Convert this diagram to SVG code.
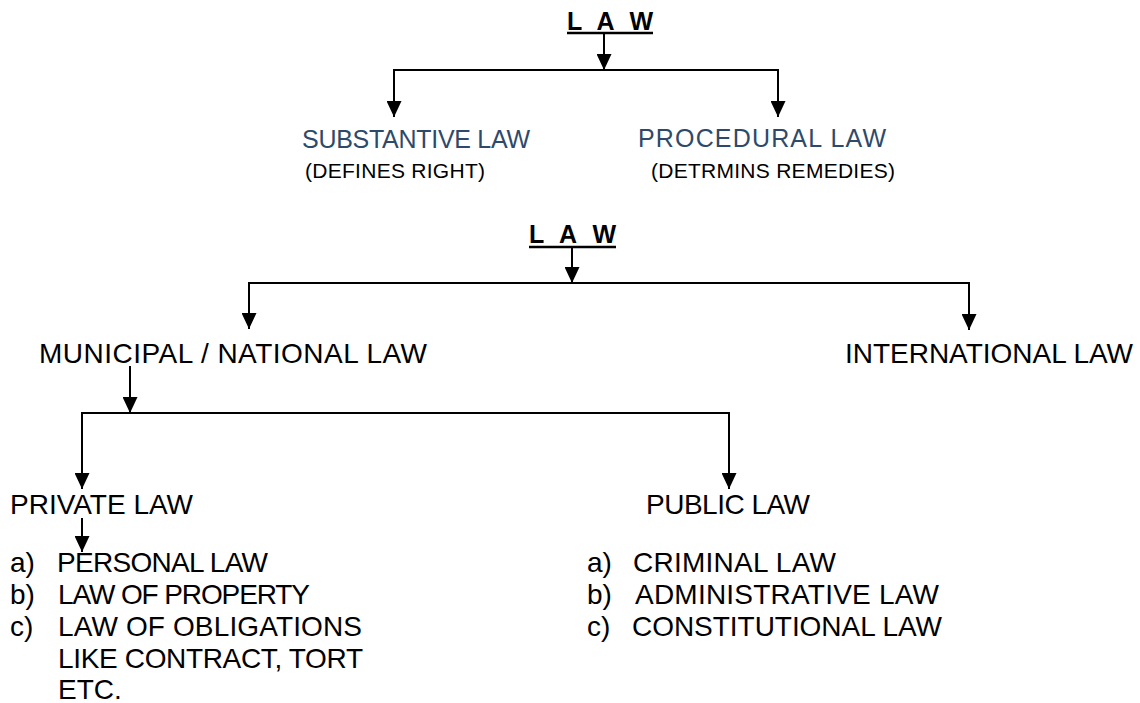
<svg xmlns="http://www.w3.org/2000/svg" width="1140" height="703" viewBox="0 0 1140 703">
<style>
  .t { font-family: "Liberation Sans", Arial, sans-serif; font-size: 28px; fill: #000; }
  .h { font-family: "Liberation Sans", Arial, sans-serif; font-size: 25px; font-weight: bold; fill: #000; }
  .blue { font-family: "Liberation Sans", Arial, sans-serif; font-size: 25px; fill: #2E4A6A; }
  .sub { font-family: "Liberation Sans", Arial, sans-serif; font-size: 21px; fill: #000; }
  .c { fill: none; stroke: #000; stroke-width: 2; }
  .u { stroke: #000; stroke-width: 2.5; }
</style>
<defs>
  <marker id="ah" markerUnits="userSpaceOnUse" viewBox="0 0 16 15" refX="16" refY="7.5" markerWidth="16" markerHeight="15" orient="auto-start-reverse">
    <path d="M0,0 L16,7.5 L0,15 z" fill="#000"/>
  </marker>
</defs>
<rect width="1140" height="703" fill="#fff"/>

<g id="connectors">
  <path class="c" d="M604,33 V70" marker-end="url(#ah)"/>
  <path class="c" d="M394,117 V70 H778 V117" marker-start="url(#ah)" marker-end="url(#ah)"/>
  <path class="c" d="M572,247 V283" marker-end="url(#ah)"/>
  <path class="c" d="M249,329 V283 H969 V330" marker-start="url(#ah)" marker-end="url(#ah)"/>
  <path class="c" d="M130,366 V413" marker-end="url(#ah)"/>
  <path class="c" d="M82,489 V413 H729 V489" marker-start="url(#ah)" marker-end="url(#ah)"/>
  <path class="c" d="M82,518 V552" marker-end="url(#ah)"/>
</g>

<g id="law1">
  <text class="h" x="567" y="30" textLength="86" lengthAdjust="spacing">L A W</text>
  <line class="u" x1="567" y1="33" x2="653" y2="33"/>
</g>
<g id="substantive">
  <text class="blue" x="302" y="148" textLength="228" lengthAdjust="spacing">SUBSTANTIVE LAW</text>
  <text class="sub" x="305" y="178" textLength="180" lengthAdjust="spacing">(DEFINES RIGHT)</text>
</g>
<g id="procedural">
  <text class="blue" x="638" y="147" textLength="248" lengthAdjust="spacing">PROCEDURAL LAW</text>
  <text class="sub" x="651" y="178" textLength="244" lengthAdjust="spacing">(DETRMINS REMEDIES)</text>
</g>

<g id="law2">
  <text class="h" x="529" y="243" textLength="87" lengthAdjust="spacing">L A W</text>
  <line class="u" x1="529" y1="247" x2="616" y2="247"/>
</g>
<g id="municipal">
  <text class="t" x="39" y="363" textLength="388" lengthAdjust="spacing">MUNICIPAL / NATIONAL LAW</text>
</g>
<g id="international">
  <text class="t" x="845" y="363" textLength="288" lengthAdjust="spacing">INTERNATIONAL LAW</text>
</g>

<g id="private">
  <text class="t" x="10" y="514" textLength="183" lengthAdjust="spacing">PRIVATE LAW</text>
  <text class="t" x="10" y="572">a)</text>
  <text class="t" x="57" y="572" textLength="211" lengthAdjust="spacing">PERSONAL LAW</text>
  <text class="t" x="10" y="604">b)</text>
  <text class="t" x="58" y="604" textLength="252" lengthAdjust="spacing">LAW OF PROPERTY</text>
  <text class="t" x="10" y="636">c)</text>
  <text class="t" x="58" y="636" textLength="304" lengthAdjust="spacing">LAW OF OBLIGATIONS</text>
  <text class="t" x="58" y="668" textLength="305" lengthAdjust="spacing">LIKE CONTRACT, TORT</text>
  <text class="t" x="58" y="699">ETC.</text>
</g>

<g id="public">
  <text class="t" x="646" y="514" textLength="164" lengthAdjust="spacing">PUBLIC LAW</text>
  <text class="t" x="587" y="572">a)</text>
  <text class="t" x="633" y="572" textLength="203" lengthAdjust="spacing">CRIMINAL LAW</text>
  <text class="t" x="587" y="604">b)</text>
  <text class="t" x="635" y="604" textLength="304" lengthAdjust="spacing">ADMINISTRATIVE LAW</text>
  <text class="t" x="587" y="636">c)</text>
  <text class="t" x="632" y="636" textLength="310" lengthAdjust="spacing">CONSTITUTIONAL LAW</text>
</g>
</svg>
